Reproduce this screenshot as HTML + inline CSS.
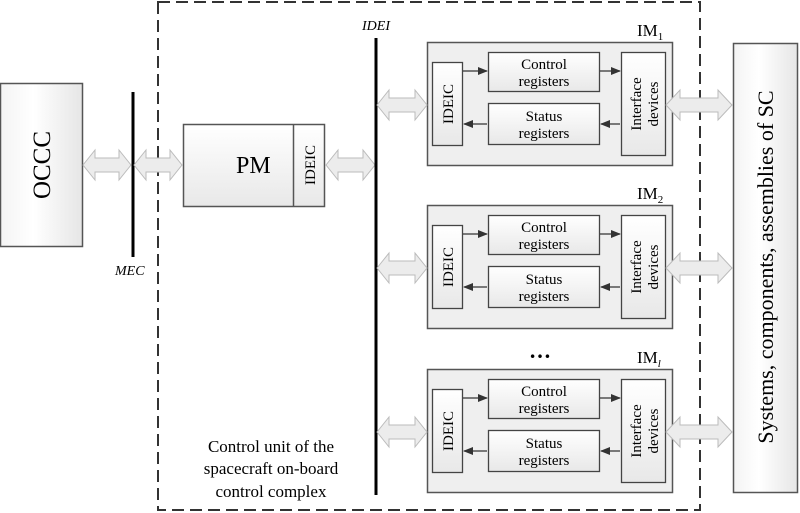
<!DOCTYPE html>
<html><head><meta charset="utf-8"><style>
html,body{margin:0;padding:0;background:#fff;}
svg{display:block;font-family:"Liberation Serif",serif;}
</style></head><body>
<svg width="800" height="513" viewBox="0 0 800 513" xmlns="http://www.w3.org/2000/svg">
<defs>
<linearGradient id="g" x1="0" x2="1" y1="0" y2="0"><stop offset="0" stop-color="#f4f4f4"/><stop offset="0.4" stop-color="#ffffff"/><stop offset="1" stop-color="#e6e6e6"/></linearGradient>
<linearGradient id="gv" x1="0" x2="0" y1="0" y2="1"><stop offset="0" stop-color="#fff"/><stop offset="1" stop-color="#e8e8e8"/></linearGradient>
<marker id="ah" markerWidth="10" markerHeight="8" refX="9" refY="4" orient="auto" markerUnits="userSpaceOnUse"><path d="M0,0 L10,4 L0,8 z" fill="#333"/></marker>
<g id="im">
<rect x="427.5" y="0.5" width="245" height="123" fill="#efefef" stroke="#555" stroke-width="1.5"/>
<rect x="432.5" y="20.5" width="30" height="83" fill="url(#gv)" stroke="#444" stroke-width="1.3"/>
<rect x="488.5" y="10.5" width="111" height="39" fill="url(#gv)" stroke="#444" stroke-width="1.3"/>
<rect x="488.5" y="61.5" width="111" height="41" fill="url(#gv)" stroke="#444" stroke-width="1.3"/>
<rect x="621.5" y="10.5" width="44" height="103" fill="url(#gv)" stroke="#444" stroke-width="1.3"/>
<line x1="463" y1="29" x2="487" y2="29" stroke="#333" stroke-width="1.3" marker-end="url(#ah)"/>
<line x1="600" y1="29" x2="620" y2="29" stroke="#333" stroke-width="1.3" marker-end="url(#ah)"/>
<line x1="620" y1="82" x2="601" y2="82" stroke="#333" stroke-width="1.3" marker-end="url(#ah)"/>
<line x1="487" y1="82" x2="464" y2="82" stroke="#333" stroke-width="1.3" marker-end="url(#ah)"/>
<text x="544" y="27" font-size="15" text-anchor="middle">Control</text>
<text x="544" y="44" font-size="15" text-anchor="middle">registers</text>
<text x="544" y="79" font-size="15" text-anchor="middle">Status</text>
<text x="544" y="96" font-size="15" text-anchor="middle">registers</text>
<text transform="translate(453,62) rotate(-90)" font-size="15" text-anchor="middle">IDEIC</text>
<text transform="translate(641,62) rotate(-90)" font-size="15" text-anchor="middle">Interface</text>
<text transform="translate(658,62) rotate(-90)" font-size="15" text-anchor="middle">devices</text>
<path d="M377,63 l12,-15 v8 h26 v-8 l12,15 l-12,15 v-8 h-26 v8 z" fill="#ececec" stroke="#bbb" stroke-width="1"/>
<path d="M666,63 l14,-15 v8 h38 v-8 l14,15 l-14,15 v-8 h-38 v8 z" fill="#ececec" stroke="#bbb" stroke-width="1"/>
</g>
</defs>

<!-- dashed box -->
<rect x="158" y="2" width="542" height="508" fill="none" stroke="#333" stroke-width="2" stroke-dasharray="12,6"/>

<!-- OCCC -->
<rect x="0.5" y="83.5" width="82" height="163" fill="url(#g)" stroke="#555" stroke-width="1.5"/>
<text transform="translate(50,165) rotate(-90)" font-size="25" text-anchor="middle">OCCC</text>

<!-- MEC -->
<line x1="133" y1="92" x2="133" y2="257" stroke="#000" stroke-width="3"/>
<text x="115" y="275" font-size="14" font-style="italic">MEC</text>

<!-- arrows left -->
<path d="M83,165 l12,-15 v8 h24 v-8 l12,15 l-12,15 v-8 h-24 v8 z" fill="#ececec" stroke="#bbb" stroke-width="1"/>
<path d="M134,165 l12,-15 v8 h24 v-8 l12,15 l-12,15 v-8 h-24 v8 z" fill="#ececec" stroke="#bbb" stroke-width="1"/>

<!-- PM -->
<rect x="183.5" y="124.5" width="141" height="82" fill="url(#gv)" stroke="#555" stroke-width="1.5"/>
<line x1="293.5" y1="124" x2="293.5" y2="207" stroke="#555" stroke-width="1.5"/>
<text x="236" y="173" font-size="24">PM</text>
<text transform="translate(315,165) rotate(-90)" font-size="15" text-anchor="middle">IDEIC</text>
<path d="M326,165 l12,-15 v8 h25 v-8 l12,15 l-12,15 v-8 h-25 v8 z" fill="#ececec" stroke="#bbb" stroke-width="1"/>

<!-- IDEI bus -->
<line x1="376" y1="38" x2="376" y2="495" stroke="#000" stroke-width="3"/>
<text x="362" y="30" font-size="14" font-style="italic">IDEI</text>

<!-- IM modules -->
<use href="#im" transform="translate(0,42)"/>
<use href="#im" transform="translate(0,205)"/>
<use href="#im" transform="translate(0,369)"/>
<text x="637" y="36" font-size="17">IM<tspan font-size="11" dy="4">1</tspan></text>
<text x="637" y="199" font-size="17">IM<tspan font-size="11" dy="4">2</tspan></text>
<text x="637" y="363" font-size="17">IM<tspan font-size="11" dy="4" font-style="italic">l</tspan></text>
<text x="540" y="358" font-size="22" font-weight="bold" text-anchor="middle">…</text>

<!-- right box -->
<rect x="733.5" y="43.5" width="64" height="449" fill="url(#g)" stroke="#555" stroke-width="1.5"/>
<text transform="translate(773,267) rotate(-90)" font-size="22" text-anchor="middle">Systems, components, assemblies of SC</text>

<!-- caption -->
<text x="271" y="452" font-size="17" text-anchor="middle">Control unit of the</text>
<text x="271" y="474" font-size="17" text-anchor="middle">spacecraft on-board</text>
<text x="271" y="497" font-size="17" text-anchor="middle">control complex</text>
</svg>
</body></html>
